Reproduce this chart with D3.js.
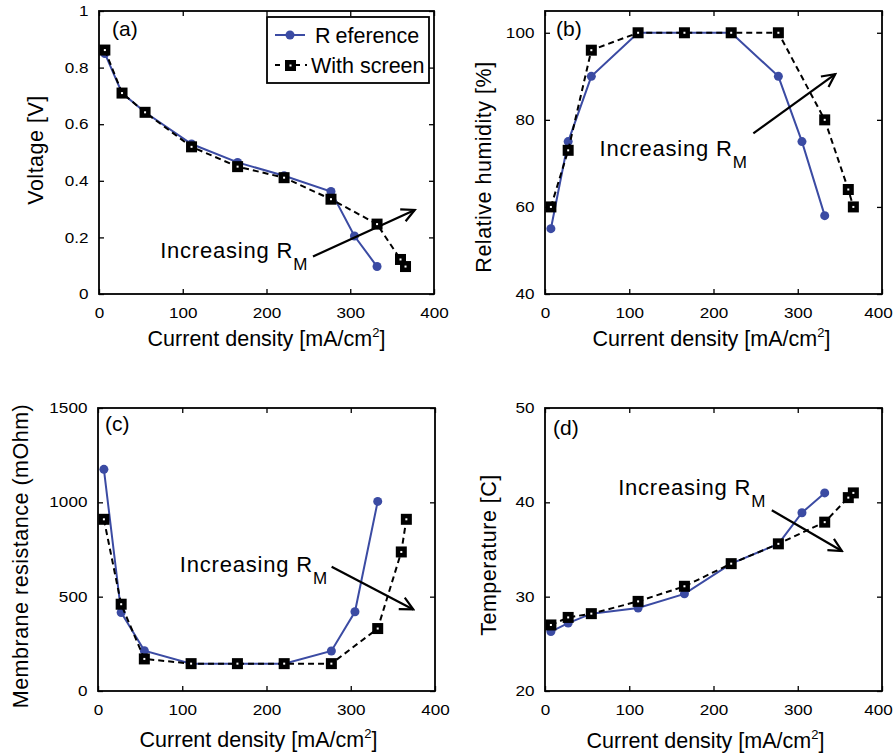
<!DOCTYPE html>
<html>
<head>
<meta charset="utf-8">
<script src="https://cdn.jsdelivr.net/npm/d3@7"></script>
<style>
body { margin: 0; background: #fff; }
svg { font-family: "Liberation Sans", Arial, Helvetica, sans-serif; }
</style>
</head>
<body>
<svg id="fig" width="895" height="756"></svg>
<script>
// current density [mA/cm2]
var xRef = [7, 27.5, 55, 110.5, 165.5, 221, 277, 305, 332];
var xScr = [7, 27.5, 55, 110.5, 165.5, 221, 277, 332, 360, 366];

// (a) voltage
var voltRef = [0.85, 0.71, 0.642, 0.53, 0.465, 0.418, 0.362, 0.205, 0.097];
var voltScr = [0.862, 0.71, 0.642, 0.52, 0.45, 0.411, 0.335, 0.247, 0.122, 0.097];
// (b) relative humidity
var rhRef = [55, 75, 90, 100, 100, 100, 90, 75, 58];
var rhScr = [60, 73, 96, 100, 100, 100, 100, 80, 64, 60];
// (c) membrane resistance
var resRef = [1175, 416, 214, 145, 145, 145, 212, 420, 1005];
var resScr = [910, 460, 170, 145, 145, 145, 145, 331, 737, 910];
// (d) temperature
var tempRef = [26.3, 27.2, 28.2, 28.8, 30.3, 33.5, 35.6, 38.9, 41.0];
var tempScr = [27.0, 27.8, 28.2, 29.5, 31.1, 33.5, 35.6, 37.9, 40.5, 41.0];

var xTicks = [0, 100, 200, 300, 400];
var legendLabels = ["Reference", "With screen"];

var blue = "#3b4ba3";
var svg = d3.select("#fig");

var defs = svg.append("defs");
defs.append("marker")
    .attr("id", "head")
    .attr("viewBox", "-14 -8 16 16")
    .attr("refX", 0).attr("refY", 0)
    .attr("markerWidth", 16).attr("markerHeight", 16)
    .attr("markerUnits", "userSpaceOnUse")
    .attr("orient", "auto")
  .append("path")
    .attr("d", "M-13,-6.5L0,0L-13,6.5")
    .attr("fill", "none")
    .attr("stroke", "#000")
    .attr("stroke-width", 2.2);

var panels = [
  {tag: "(a)", left: 99, top: 11, w: 335, h: 283, yDomain: [0, 1], yTicks: [0, 0.2, 0.4, 0.6, 0.8, 1],
   ylab: "Voltage [V]", yRef: voltRef, yScr: voltScr,
   arrow: [[255.5, 0.1325], [377, 0.297]], txt: [73, 0.127],
   ylabPos: [-56, 139], tagPos: [13, 25], xlabDx: 0, xlabDy: 52, legend: true, edge: false},
  {tag: "(b)", left: 545, top: 11, w: 337, h: 283, yDomain: [40, 105], yTicks: [40, 60, 80, 100],
   ylab: "Relative humidity [%]", yRef: rhRef, yScr: rhScr,
   arrow: [[247.3, 76.9], [344.5, 90.5]], txt: [64.8, 71.7],
   ylabPos: [-54, 156], tagPos: [11, 25], xlabDx: -2, xlabDy: 52, edge: true},
  {tag: "(c)", left: 98, top: 408, w: 337, h: 283, yDomain: [0, 1500], yTicks: [0, 500, 1000, 1500],
   ylab: "Membrane resistance (mOhm)", yRef: resRef, yScr: resScr,
   arrow: [[277.3, 658.6], [374.2, 432.4]], txt: [97.1, 632],
   ylabPos: [-70, 148], tagPos: [7, 23], xlabDx: -8, xlabDy: 56, edge: false},
  {tag: "(d)", left: 545, top: 408, w: 337, h: 283, yDomain: [20, 50], yTicks: [20, 30, 40, 50],
   ylab: "Temperature [C]", yRef: tempRef, yScr: tempScr,
   arrow: [[269.2, 39.16], [352.4, 34.84]], txt: [86.8, 40.75],
   ylabPos: [-49, 147], tagPos: [8, 27], xlabDx: -8, xlabDy: 57, edge: true}
];

var fmt = function(d) { return String(d); };

panels.forEach(function(p, pi) {
  var g = svg.append("g").attr("transform", "translate(" + p.left + "," + p.top + ")");
  var x = d3.scaleLinear().domain([0, 400]).range([0, p.w]);
  var y = d3.scaleLinear().domain(p.yDomain).range([p.h, 0]);

  // axes, MATLAB style ticks pointing inwards on all four sides
  var bottom = g.append("g").attr("transform", "translate(0," + p.h + ")")
      .call(d3.axisBottom(x).tickValues(xTicks).tickSize(-5).tickPadding(14).tickFormat(fmt));
  var left = g.append("g")
      .call(d3.axisLeft(y).tickValues(p.yTicks).tickSize(-5).tickPadding(9).tickFormat(fmt));
  g.append("g").call(d3.axisTop(x).tickValues(xTicks).tickSize(-5).tickFormat(""));
  g.append("g").attr("transform", "translate(" + p.w + ",0)")
      .call(d3.axisRight(y).tickValues(p.yTicks).tickSize(-5).tickFormat(""));
  g.selectAll(".domain").remove();
  g.selectAll(".tick line").attr("stroke", "#000").attr("stroke-width", 1.3);
  [bottom, left].forEach(function(a) {
    a.selectAll("text").attr("font-size", 14.5).attr("fill", "#000")
      .attr("font-family", "'Liberation Sans', Arial, sans-serif")
      .attr("transform", "scale(1.18,1)");
  });
  // last x label sits at the figure edge on the right-hand panels
  if (p.edge) {
    bottom.selectAll(".tick text").filter(function(d) { return d === 400; }).attr("dx", -3.5);
  }
  g.append("rect").attr("width", p.w).attr("height", p.h)
      .attr("fill", "none").attr("stroke", "#000").attr("stroke-width", 1.8);

  // labels
  var xl = g.append("text").attr("x", p.w / 2 + p.xlabDx).attr("y", p.h + p.xlabDy)
      .attr("text-anchor", "middle").attr("font-size", 21.5);
  xl.append("tspan").text("Current density  [mA/cm");
  xl.append("tspan").attr("dy", -9).attr("font-size", 13).text("2");
  xl.append("tspan").attr("dy", 9).text("]");

  g.append("text")
      .attr("transform", "translate(" + p.ylabPos[0] + "," + p.ylabPos[1] + ") rotate(-90)")
      .attr("text-anchor", "middle").attr("font-size", 21.5).attr("letter-spacing", 0.5)
      .text(p.ylab);

  g.append("text").attr("x", p.tagPos[0]).attr("y", p.tagPos[1])
      .attr("font-size", 21).text(p.tag);

  // series
  var refPts = xRef.map(function(v, i) { return [v, p.yRef[i]]; });
  var scrPts = xScr.map(function(v, i) { return [v, p.yScr[i]]; });
  var line = d3.line().x(function(d) { return x(d[0]); }).y(function(d) { return y(d[1]); });

  g.append("path").datum(refPts).attr("d", line)
      .attr("fill", "none").attr("stroke", blue).attr("stroke-width", 2);
  g.selectAll(".ref").data(refPts).enter().append("circle")
      .attr("cx", function(d) { return x(d[0]); })
      .attr("cy", function(d) { return y(d[1]); })
      .attr("r", 4.5).attr("fill", blue);

  g.append("path").datum(scrPts).attr("d", line)
      .attr("fill", "none").attr("stroke", "#000").attr("stroke-width", 2)
      .attr("stroke-dasharray", "6,4");
  g.selectAll(".scr").data(scrPts).enter().append("rect")
      .attr("x", function(d) { return x(d[0]) - 5.5; })
      .attr("y", function(d) { return y(d[1]) - 5.5; })
      .attr("width", 11).attr("height", 11).attr("fill", "#000");
  g.selectAll(".dot").data(scrPts).enter().append("rect")
      .attr("x", function(d) { return x(d[0]) - 1; })
      .attr("y", function(d) { return y(d[1]) - 1; })
      .attr("width", 2).attr("height", 2).attr("fill", "#fff");

  // annotation
  g.append("line")
      .attr("x1", x(p.arrow[0][0])).attr("y1", y(p.arrow[0][1]))
      .attr("x2", x(p.arrow[1][0])).attr("y2", y(p.arrow[1][1]))
      .attr("stroke", "#000").attr("stroke-width", 2.2).attr("marker-end", "url(#head)");
  var t = g.append("text").attr("x", x(p.txt[0])).attr("y", y(p.txt[1]))
      .attr("font-size", 22).attr("letter-spacing", 0.8);
  t.append("tspan").text("Increasing R");
  t.append("tspan").attr("dy", 12).attr("font-size", 17).attr("letter-spacing", 0).text("M");

  // legend
  if (p.legend) {
    var lg = g.append("g").attr("transform", "translate(168,6)");
    defs.append("clipPath").attr("id", "legclip")
      .append("rect").attr("width", 162).attr("height", 66);
    lg.append("rect").attr("width", 162).attr("height", 66)
        .attr("fill", "#fff").attr("stroke", "#000").attr("stroke-width", 1.8);
    var inner = lg.append("g").attr("clip-path", "url(#legclip)");
    inner.append("line").attr("x1", 8).attr("x2", 38).attr("y1", 18).attr("y2", 18)
        .attr("stroke", blue).attr("stroke-width", 2);
    inner.append("circle").attr("cx", 23).attr("cy", 18).attr("r", 4.5).attr("fill", blue);
    var r1 = inner.append("text").attr("x", 48).attr("y", 26).attr("font-size", 21.5);
    r1.append("tspan").text(legendLabels[0].slice(0, 1));
    r1.append("tspan").attr("dx", 5).text(legendLabels[0].slice(1));
    inner.append("line").attr("x1", 8).attr("x2", 40).attr("y1", 48).attr("y2", 48)
        .attr("stroke", "#000").attr("stroke-width", 2).attr("stroke-dasharray", "5,5");
    inner.append("rect").attr("x", 18).attr("y", 43).attr("width", 11).attr("height", 11).attr("fill", "#000");
    inner.append("rect").attr("x", 22.5).attr("y", 47.5).attr("width", 2).attr("height", 2).attr("fill", "#fff");
    inner.append("text").attr("x", 44).attr("y", 56).attr("font-size", 21.5).text(legendLabels[1]);
  }
});
</script>
</body>
</html>
